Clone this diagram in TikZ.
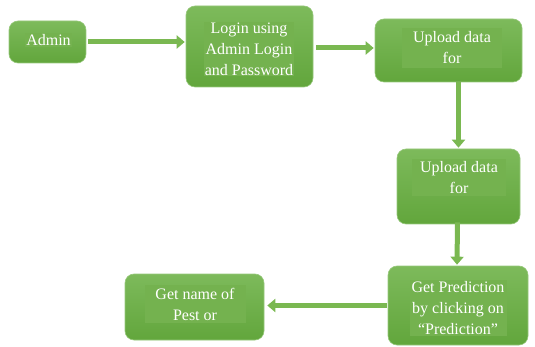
\documentclass[tikz,border=0pt]{standalone}
\usepackage{fontspec}
\setmainfont{Liberation Serif}[Ligatures=TeX]
\usetikzlibrary{arrows.meta}
\definecolor{boxtop}{HTML}{7DBA5B}
\definecolor{boxbot}{HTML}{62A63C}
\definecolor{panel}{HTML}{74B24F}
\definecolor{arrowgreen}{HTML}{7AB851}
\begin{document}
\begin{tikzpicture}[x=1pt, y=-1pt,
    stepbox/.style={draw=boxtop!80!white, line width=0.6pt, rounded corners=9pt,
        top color=boxtop, bottom color=boxbot, inner sep=0pt},
    steptext/.style={fill=panel, text=white, align=center, inner sep=1pt,
        font=\rmfamily\fontsize{16}{21}\selectfont},
    flow/.style={arrowgreen, line width=5pt,
        -{Triangle[width=13pt,length=8pt]}}]
    \useasboundingbox (0,0) rectangle (535,347);

    % boxes
    \node[stepbox, minimum width=77pt, minimum height=42pt] (admin) at (47.5,42) {};
    \node[stepbox, minimum width=127pt, minimum height=81pt] (login) at (249.5,46.5) {};
    \node[stepbox, minimum width=147pt, minimum height=63pt] (upone) at (448.5,50.5) {};
    \node[stepbox, minimum width=123pt, minimum height=75pt] (uptwo) at (458.5,186.5) {};
    \node[stepbox, minimum width=140pt, minimum height=79pt] (predict) at (458,305.5) {};
    \node[stepbox, minimum width=139pt, minimum height=66pt] (pest) at (194.5,307) {};

    % texts
    \node[steptext, minimum width=47pt] (admintxt) at (48.5,40) {Admin};
    \node[steptext, minimum width=88pt] (logintxt) at (249,49) {Login using\\Admin Login\\and Password};
    \node[steptext, minimum width=100pt, minimum height=40pt] (uponetxt) at (452,48) {Upload data\\for};
    \node[steptext, minimum width=94pt, minimum height=37pt] (uptwotxt) at (459,178) {Upload data\\for};
    \node[steptext, minimum width=97pt] (predicttxt) at (458,308) {Get Prediction\\by clicking on\\“Prediction”};
    \node[steptext, minimum width=101pt, minimum height=38pt] (pesttxt) at (195,304) {Get name of\\Pest or};

    % arrows
    \draw[flow] ([xshift=2pt]admin.east) -- ([xshift=-1pt]admin.east -| login.west);
    \draw[flow] ([xshift=3pt,yshift=-1.5pt]login.east) -- ([xshift=-1pt,yshift=-1.5pt]login.east -| upone.west);
    \draw[flow] (upone.south -| uptwo) -- ([yshift=1pt]uptwo.north);
    \draw[flow] ([xshift=-1pt,yshift=2pt]uptwo.south) -- ([xshift=-1pt,yshift=1pt]predict.north);
    \draw[flow] ([xshift=-1pt]predict.west) -- ([xshift=3pt]predict.west -| pest.east);
\end{tikzpicture}
\end{document}
